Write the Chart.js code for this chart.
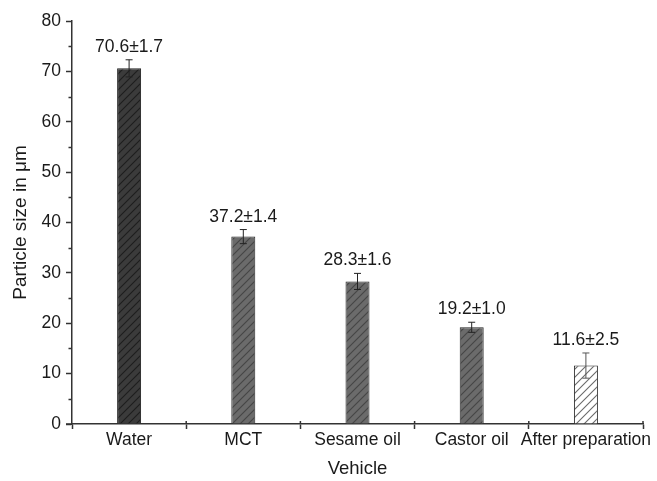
<!DOCTYPE html>
<html>
<head>
<meta charset="utf-8">
<script src="https://cdn.jsdelivr.net/npm/chart.js@4"></script>
<style>
  html, body { margin: 0; padding: 0; background: #fff; }
  #wrap { width: 657px; height: 481px; }
</style>
</head>
<body>
<div id="wrap"><canvas id="c" width="657" height="481"></canvas></div>
<script>
// Particle size by vehicle (mean ± SD)
const vehicles = ['Water', 'MCT', 'Sesame oil', 'Castor oil', 'After preparation'];
const meanSize = [70.6, 37.2, 28.3, 19.2, 11.6];
const sdSize = [1.7, 1.4, 1.6, 1.0, 2.5];
const yTicks = [0, 10, 20, 30, 40, 50, 60, 70, 80];

const FONT = "'Liberation Sans', Arial, sans-serif";
const INK = '#1a1a1a';

// diagonal hatch fill
function hatch(bg, line) {
  const s = 8;
  const c = document.createElement('canvas');
  c.width = s; c.height = s;
  const g = c.getContext('2d');
  g.fillStyle = bg;
  g.fillRect(0, 0, s, s);
  g.strokeStyle = line;
  g.lineWidth = 1.1;
  g.beginPath();
  g.moveTo(-1, s + 1); g.lineTo(s + 1, -1);
  g.moveTo(-1, 1); g.lineTo(1, -1);
  g.moveTo(s - 1, s + 1); g.lineTo(s + 1, s - 1);
  g.stroke();
  return g.createPattern(c, 'repeat');
}
const fills = [
  hatch('#3b3b3b', '#1e1e1e'),
  hatch('#6b6b6b', '#464646'),
  hatch('#6b6b6b', '#464646'),
  hatch('#6b6b6b', '#464646'),
  hatch('#ffffff', '#6a6a6a')
];

// error bars, value labels, minor ticks and axis details
const extras = {
  id: 'extras',
  afterDatasetsDraw(chart) {
    const { ctx, scales: { x, y }, chartArea } = chart;
    ctx.save();
    meanSize.forEach((v, i) => {
      const px = x.getPixelForValue(i);
      const top = y.getPixelForValue(v + sdSize[i]);
      const bot = y.getPixelForValue(v - sdSize[i]);
      ctx.strokeStyle = i === 4 ? '#555' : '#222';
      ctx.lineWidth = 1;
      ctx.beginPath();
      ctx.moveTo(px, top); ctx.lineTo(px, bot);
      ctx.moveTo(px - 3.5, top); ctx.lineTo(px + 3.5, top);
      ctx.moveTo(px - 3.5, bot); ctx.lineTo(px + 3.5, bot);
      ctx.stroke();
      ctx.fillStyle = INK;
      ctx.font = '17.5px ' + FONT;
      ctx.textAlign = 'center';
      ctx.textBaseline = 'bottom';
      ctx.fillText(v.toFixed(1) + '±' + sdSize[i].toFixed(1), px, top - 4);
    });
    // minor ticks on the value axis
    ctx.strokeStyle = '#333';
    ctx.lineWidth = 1.5;
    ctx.beginPath();
    for (let t = 5; t < 80; t += 10) {
      const py = Math.round(y.getPixelForValue(t)) + 0.5;
      ctx.moveTo(chartArea.left - 3.5, py); ctx.lineTo(chartArea.left, py);
    }
    // category boundary ticks cross the axis line
    for (let i = 1; i <= vehicles.length; i++) {
      const px = chartArea.left + (chartArea.right - chartArea.left) * i / vehicles.length;
      ctx.moveTo(px, chartArea.bottom); ctx.lineTo(px, chartArea.bottom - 3);
    }
    // axis line runs a little past the value axis
    ctx.moveTo(chartArea.left - 6, chartArea.bottom);
    ctx.lineTo(chartArea.left, chartArea.bottom);
    ctx.stroke();
    ctx.restore();
  }
};

new Chart(document.getElementById('c'), {
  type: 'bar',
  data: {
    labels: vehicles,
    datasets: [{
      data: meanSize,
      backgroundColor: fills,
      borderColor: '#222',
      borderWidth: 1,
      categoryPercentage: 1,
      barPercentage: 0.21
    }]
  },
  options: {
    responsive: false,
    animation: false,
    devicePixelRatio: 1,
    layout: { padding: { top: 21, right: 14, left: 0, bottom: 0 } },
    plugins: { legend: { display: false }, tooltip: { enabled: false } },
    scales: {
      x: {
        offset: true,
        grid: { offset: true, drawOnChartArea: false, drawTicks: true, tickLength: 5, tickColor: '#333', tickWidth: 1.5 },
        border: { color: '#333', width: 1.5 },
        ticks: { color: INK, font: { family: FONT, size: 17.5 }, padding: 1, maxRotation: 0, autoSkip: false },
        title: { display: true, text: 'Vehicle', color: INK, font: { family: FONT, size: 18.5 }, padding: { top: 0, bottom: 1 } },
        afterFit(s) { s.height = 57; s.paddingLeft = 0; s.paddingRight = 0; }
      },
      y: {
        min: 0,
        max: 80,
        afterBuildTicks(s) { s.ticks = yTicks.map(v => ({ value: v })); },
        grid: { drawOnChartArea: false, drawTicks: true, tickLength: 6, tickColor: '#333', tickWidth: 1.5 },
        border: { color: '#333', width: 1.5 },
        ticks: { color: INK, font: { family: FONT, size: 17.5 }, padding: 5 },
        title: { display: true, text: 'Particle size in μm', color: INK, font: { family: FONT, size: 19 }, padding: { top: 9, bottom: 0 } },
        afterFit(s) { s.width = 72; }
      }
    }
  },
  plugins: [extras]
});
</script>
</body>
</html>
